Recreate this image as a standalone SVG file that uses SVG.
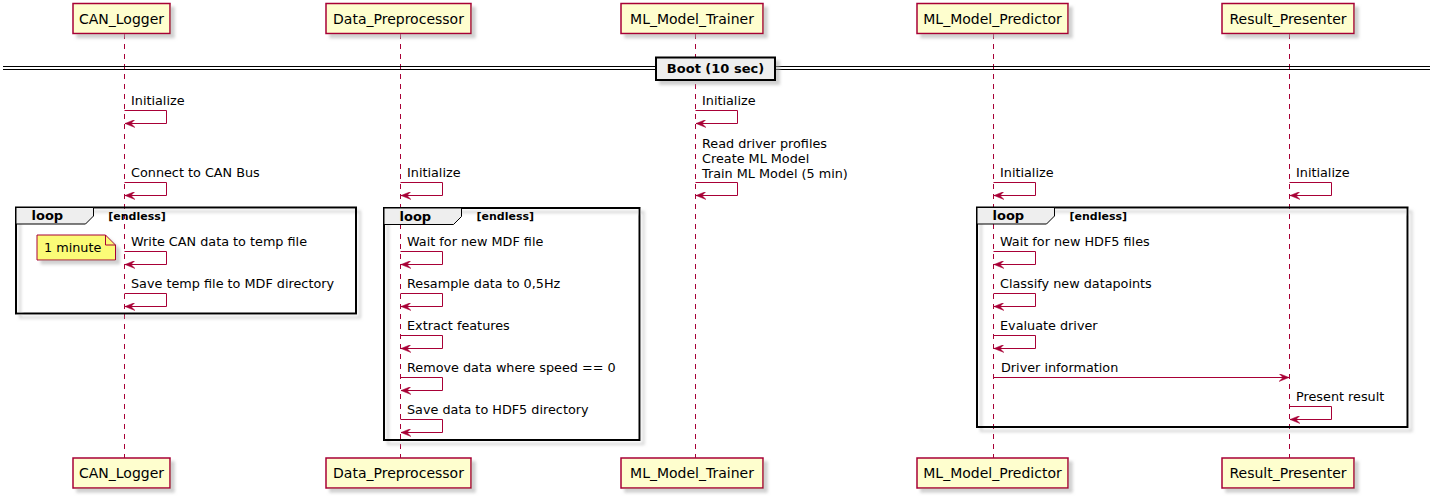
<svg xmlns="http://www.w3.org/2000/svg" width="1439" height="500" viewBox="0 0 1439 500">
<defs>
<filter id="sh" x="-10%" y="-10%" width="130%" height="150%">
<feGaussianBlur in="SourceAlpha" stdDeviation="1.8"/>
<feColorMatrix type="matrix" values="0 0 0 0 0.4  0 0 0 0 0.4  0 0 0 0 0.4  0 0 0 0.55 0"/>
<feOffset dx="4" dy="4" result="b"/>
<feMerge><feMergeNode in="b"/><feMergeNode in="SourceGraphic"/></feMerge>
</filter>
<marker id="ah" viewBox="0 0 10 8" refX="10" refY="4" markerWidth="10" markerHeight="8" markerUnits="userSpaceOnUse" orient="auto">
<polygon points="0,0 10,4 0,8 4,4" fill="#A80036" stroke="#A80036" stroke-width="0.5"/>
</marker>
</defs>
<style>
.p{fill:#FEFECE;stroke:#A80036;stroke-width:1.5;filter:url(#sh)}
.pt{font-family:"DejaVu Sans",sans-serif;font-size:14px;fill:#000;text-anchor:middle}
.ll{stroke:#A80036;stroke-width:1;stroke-dasharray:5,5;fill:none}
.m{stroke:#A80036;stroke-width:1;fill:none}
.mt{font-family:"DejaVu Sans",sans-serif;font-size:12.8px;fill:#000}
.lf{fill:none;stroke:#000;stroke-width:2;filter:url(#sh)}
.tab{fill:#EEEEEE;stroke:#000;stroke-width:1}
.lt{font-family:"DejaVu Sans",sans-serif;font-size:13px;font-weight:bold;fill:#000}
.ct{font-family:"DejaVu Sans",sans-serif;font-size:11px;font-weight:bold;fill:#000}
.dl{stroke:#000;stroke-width:1}
</style>

<g id="connectors">
<line class="ll" x1="124.5" y1="34" x2="124.5" y2="458"/>
<line class="ll" x1="400.5" y1="34" x2="400.5" y2="458"/>
<line class="ll" x1="695.5" y1="34" x2="695.5" y2="458"/>
<line class="ll" x1="993.5" y1="34" x2="993.5" y2="458"/>
<line class="ll" x1="1289.5" y1="34" x2="1289.5" y2="458"/>
</g>

<g id="divider-boot">
<line class="dl" x1="3" y1="66.5" x2="1430" y2="66.5"/>
<line class="dl" x1="3" y1="69.5" x2="1430" y2="69.5"/>
<rect x="656" y="57.5" width="119" height="22.5" fill="#EEEEEE" stroke="#000" stroke-width="2" filter="url(#sh)"/>
<text x="715.5" y="72.5" class="lt" text-anchor="middle">Boot (10 sec)</text>
</g>

<g id="loop-logger">
<rect class="lf" x="16" y="207.5" width="340" height="106"/>
<polygon class="tab" points="16,207.5 93.5,207.5 93.5,216 85.5,224 16,224"/>
<text class="lt" x="31.5" y="220">loop</text>
<text class="ct" x="108.3" y="219.5">[endless]</text>
</g>
<g id="loop-preprocessor">
<rect class="lf" x="384" y="208" width="255.5" height="232"/>
<polygon class="tab" points="384,208 461.5,208 461.5,216.5 453.5,224.5 384,224.5"/>
<text class="lt" x="399.5" y="220.5">loop</text>
<text class="ct" x="476.5" y="220">[endless]</text>
</g>
<g id="loop-predictor">
<rect class="lf" x="977" y="207.5" width="430.5" height="219.5"/>
<polygon class="tab" points="977,207.5 1054.5,207.5 1054.5,216 1046.5,224 977,224"/>
<text class="lt" x="992.5" y="220">loop</text>
<text class="ct" x="1069.5" y="219.5">[endless]</text>
</g>

<g id="messages">
<!-- CAN_Logger -->
<text class="mt" x="131" y="105">Initialize</text>
<polyline class="m" points="124.5,110.5 166.5,110.5 166.5,123.5 125,123.5" marker-end="url(#ah)"/>
<text class="mt" x="131" y="177">Connect to CAN Bus</text>
<polyline class="m" points="124.5,182.5 166.5,182.5 166.5,195.5 125,195.5" marker-end="url(#ah)"/>
<text class="mt" x="131" y="246">Write CAN data to temp file</text>
<polyline class="m" points="124.5,251.5 166.5,251.5 166.5,264.5 125,264.5" marker-end="url(#ah)"/>
<text class="mt" x="131" y="288">Save temp file to MDF directory</text>
<polyline class="m" points="124.5,293.5 166.5,293.5 166.5,306.5 125,306.5" marker-end="url(#ah)"/>
<!-- Data_Preprocessor -->
<text class="mt" x="407" y="177">Initialize</text>
<polyline class="m" points="400.5,182.5 442.5,182.5 442.5,195.5 401,195.5" marker-end="url(#ah)"/>
<text class="mt" x="407" y="246">Wait for new MDF file</text>
<polyline class="m" points="400.5,251.5 442.5,251.5 442.5,264.5 401,264.5" marker-end="url(#ah)"/>
<text class="mt" x="407" y="288">Resample data to 0,5Hz</text>
<polyline class="m" points="400.5,293.5 442.5,293.5 442.5,306.5 401,306.5" marker-end="url(#ah)"/>
<text class="mt" x="407" y="330">Extract features</text>
<polyline class="m" points="400.5,335.5 442.5,335.5 442.5,348.5 401,348.5" marker-end="url(#ah)"/>
<text class="mt" x="407" y="372">Remove data where speed == 0</text>
<polyline class="m" points="400.5,377.5 442.5,377.5 442.5,390.5 401,390.5" marker-end="url(#ah)"/>
<text class="mt" x="407" y="414">Save data to HDF5 directory</text>
<polyline class="m" points="400.5,419.5 442.5,419.5 442.5,432.5 401,432.5" marker-end="url(#ah)"/>
<!-- ML_Model_Trainer -->
<text class="mt" x="702" y="105">Initialize</text>
<polyline class="m" points="695.5,110.5 737.5,110.5 737.5,123.5 696,123.5" marker-end="url(#ah)"/>
<text class="mt" x="702" y="147.5">Read driver profiles</text>
<text class="mt" x="702" y="162.5">Create ML Model</text>
<text class="mt" x="702" y="177.5">Train ML Model (5 min)</text>
<polyline class="m" points="695.5,182.5 737.5,182.5 737.5,195.5 696,195.5" marker-end="url(#ah)"/>
<!-- ML_Model_Predictor -->
<text class="mt" x="1000" y="177">Initialize</text>
<polyline class="m" points="993.5,182.5 1035.5,182.5 1035.5,195.5 994,195.5" marker-end="url(#ah)"/>
<text class="mt" x="1000" y="246">Wait for new HDF5 files</text>
<polyline class="m" points="993.5,251.5 1035.5,251.5 1035.5,264.5 994,264.5" marker-end="url(#ah)"/>
<text class="mt" x="1000" y="288">Classify new datapoints</text>
<polyline class="m" points="993.5,293.5 1035.5,293.5 1035.5,306.5 994,306.5" marker-end="url(#ah)"/>
<text class="mt" x="1000" y="330">Evaluate driver</text>
<polyline class="m" points="993.5,335.5 1035.5,335.5 1035.5,348.5 994,348.5" marker-end="url(#ah)"/>
<text class="mt" x="1001" y="372">Driver information</text>
<line class="m" x1="993.5" y1="377.5" x2="1289" y2="377.5" marker-end="url(#ah)"/>
<!-- Result_Presenter -->
<text class="mt" x="1296" y="177">Initialize</text>
<polyline class="m" points="1289.5,182.5 1331.5,182.5 1331.5,195.5 1290,195.5" marker-end="url(#ah)"/>
<text class="mt" x="1296" y="401">Present result</text>
<polyline class="m" points="1289.5,406.5 1331.5,406.5 1331.5,419.5 1290,419.5" marker-end="url(#ah)"/>
</g>

<g id="note-1min">
<path d="M37,235 L105.5,235 L115.5,245 L115.5,260 L37,260 Z" fill="#FBFB77" stroke="#A80036" stroke-width="1" filter="url(#sh)"/>
<path d="M105.5,235 L105.5,245 L115.5,245" fill="none" stroke="#A80036" stroke-width="1"/>
<text class="mt" x="44" y="251.5">1 minute</text>
</g>

<g id="CAN_Logger">
<rect class="p" x="73" y="3.5" width="97" height="30"/>
<text class="pt" x="121.5" y="23.5">CAN_Logger</text>
<rect class="p" x="73" y="458" width="97" height="30"/>
<text class="pt" x="121.5" y="478">CAN_Logger</text>
</g>
<g id="Data_Preprocessor">
<rect class="p" x="326" y="3.5" width="145" height="30"/>
<text class="pt" x="398.5" y="23.5">Data_Preprocessor</text>
<rect class="p" x="326" y="458" width="145" height="30"/>
<text class="pt" x="398.5" y="478">Data_Preprocessor</text>
</g>
<g id="ML_Model_Trainer">
<rect class="p" x="621" y="3.5" width="142" height="30"/>
<text class="pt" x="692" y="23.5">ML_Model_Trainer</text>
<rect class="p" x="621" y="458" width="142" height="30"/>
<text class="pt" x="692" y="478">ML_Model_Trainer</text>
</g>
<g id="ML_Model_Predictor">
<rect class="p" x="917" y="3.5" width="151" height="30"/>
<text class="pt" x="992.5" y="23.5">ML_Model_Predictor</text>
<rect class="p" x="917" y="458" width="151" height="30"/>
<text class="pt" x="992.5" y="478">ML_Model_Predictor</text>
</g>
<g id="Result_Presenter">
<rect class="p" x="1222" y="3.5" width="132" height="30"/>
<text class="pt" x="1288" y="23.5">Result_Presenter</text>
<rect class="p" x="1222" y="458" width="132" height="30"/>
<text class="pt" x="1288" y="478">Result_Presenter</text>
</g>
</svg>
